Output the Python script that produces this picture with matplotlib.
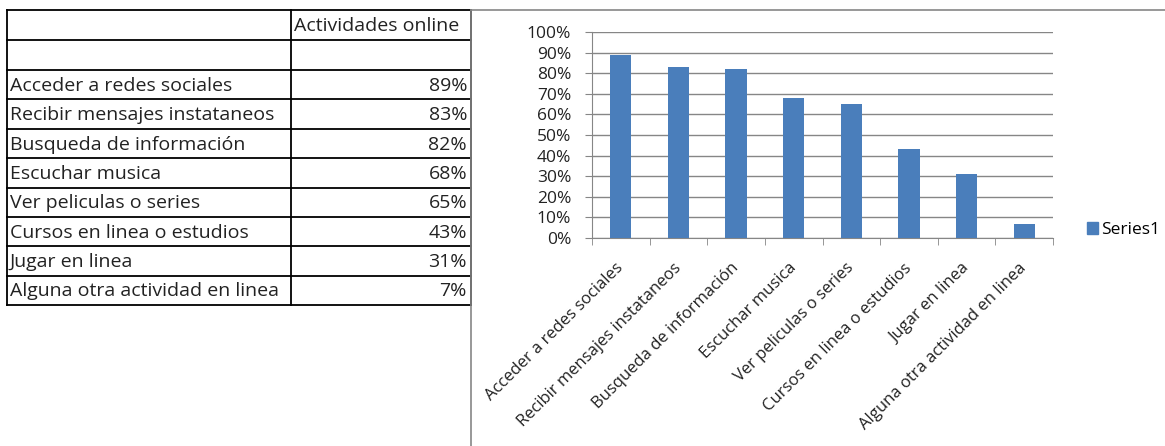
import matplotlib.pyplot as plt
from matplotlib.lines import Line2D
from matplotlib.patches import Patch
import numpy as np

actividades = [
    "Acceder a redes sociales",
    "Recibir mensajes instataneos",
    "Busqueda de información",
    "Escuchar musica",
    "Ver peliculas o series",
    "Cursos en linea o estudios",
    "Jugar en linea",
    "Alguna otra actividad en linea",
]
porcentajes = [89, 83, 82, 68, 65, 43, 31, 7]
titulo_columna = "Actividades online"
nombre_serie = "Series1"

W, H = 1165, 446
FONT = "Open Sans"
AZUL = "#4A7EBB"
GRIS = "#868686"
TXT = "#222222"

plt.rcParams['font.family'] = [FONT, 'DejaVu Sans']

fig = plt.figure(figsize=(W / 100, H / 100), dpi=100)

# capa de fondo en pixeles para la tabla y los bordes de la hoja
bg = fig.add_axes([0, 0, 1, 1])
bg.set_xlim(0, W)
bg.set_ylim(H, 0)
bg.axis('off')

x_col = [7, 291, 471]
y_filas = [10, 40, 70] + [70 + 29.4 * (i + 1) for i in range(len(actividades))]

for y in y_filas:
    bg.add_line(Line2D([x_col[0], x_col[-1]], [y, y], color='black', lw=1.3))
for x in x_col:
    bg.add_line(Line2D([x, x], [y_filas[0], y_filas[-1]], color='black', lw=1.3))

bg.text(x_col[1] + 3, (y_filas[0] + y_filas[1]) / 2 + 1, titulo_columna,
        ha='left', va='center', fontsize=14, color=TXT)
for i, (act, p) in enumerate(zip(actividades, porcentajes)):
    yc = (y_filas[i + 2] + y_filas[i + 3]) / 2 + 1
    bg.text(x_col[0] + 3, yc, act, ha='left', va='center', fontsize=14, color=TXT)
    bg.text(x_col[2] - 4, yc, f"{p}%", ha='right', va='center', fontsize=14, color=TXT)

# borde del grafico
bg.add_line(Line2D([471, 471], [10, H], color=GRIS, lw=1.2))
bg.add_line(Line2D([471, W], [10, 10], color=GRIS, lw=1.2))

# grafico de barras
ax = fig.add_axes([592 / W, 1 - 238 / H, (1053 - 592) / W, (238 - 32) / H])
x = np.arange(len(actividades))
ax.bar(x, porcentajes, width=0.37, color=AZUL, zorder=3)

ax.set_xlim(-0.5, len(actividades) - 0.5)
ax.set_ylim(0, 100)
ax.set_yticks(range(0, 101, 10))
ax.set_yticklabels([f"{v}%" for v in range(0, 101, 10)], fontsize=12.5, color=TXT)
ax.yaxis.grid(True, color=GRIS, lw=1, zorder=0)

ax.set_xticks(x)
ax.set_xticklabels(actividades, rotation=45, ha='right', va='center',
                   rotation_mode='anchor', fontsize=12, color=TXT)
ax.set_xticks(np.arange(len(actividades) + 1) - 0.5, minor=True)
ax.tick_params(axis='x', which='major', length=0, pad=20)
ax.tick_params(axis='x', which='minor', length=5, color=GRIS, direction='out')
ax.tick_params(axis='y', length=5, color=GRIS, pad=10)

for lado in ['top', 'right']:
    ax.spines[lado].set_visible(False)
for lado in ['left', 'bottom']:
    ax.spines[lado].set_color(GRIS)

ax.legend(handles=[Patch(color=AZUL, label=nombre_serie)],
          loc='center left', bbox_to_anchor=(1082 / W, 1 - 230 / H),
          bbox_transform=fig.transFigure, frameon=False, fontsize=12.5,
          handlelength=0.65, handleheight=0.65, handletextpad=0.15,
          borderaxespad=0, borderpad=0.3)

fig.savefig("out.png", dpi=100)
